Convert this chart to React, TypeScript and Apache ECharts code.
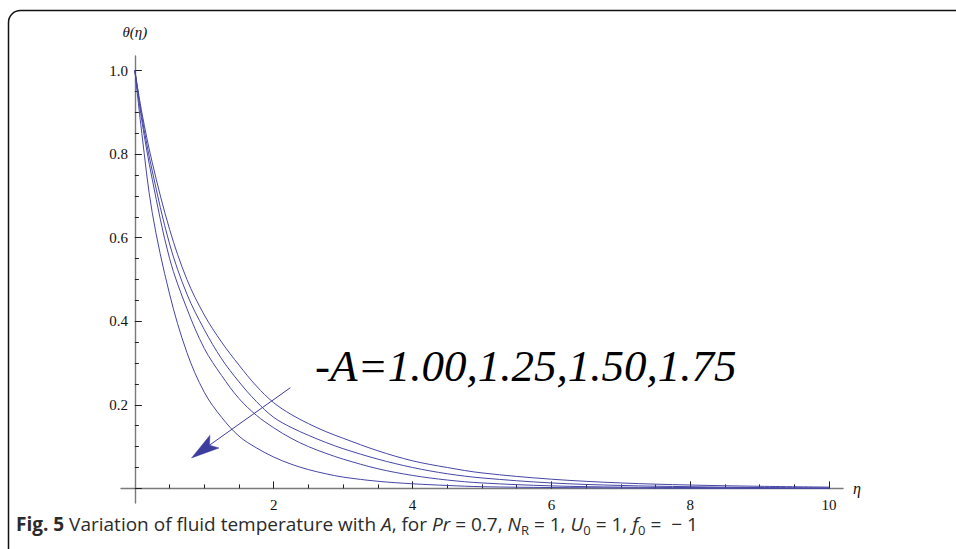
import React, { useEffect, useRef } from "react";
import * as echarts from "echarts";

// eta grid (x values)
const eta = [0, 0.1, 0.25, 0.5, 0.75, 1, 1.25, 1.5, 1.75, 2, 2.25, 2.5, 2.75, 3, 3.5, 4, 4.5, 5, 6, 7, 8, 9, 10];

// theta(eta) for -A = 1.00, 1.25, 1.50, 1.75
const thetaA100 = [1, 0.9, 0.78, 0.62, 0.5, 0.415, 0.35, 0.295, 0.245, 0.205, 0.177, 0.155, 0.136, 0.12, 0.09, 0.066, 0.05, 0.037, 0.022, 0.013, 0.008, 0.005, 0.003];
const thetaA125 = [1, 0.89, 0.76, 0.585, 0.465, 0.38, 0.31, 0.255, 0.208, 0.17, 0.146, 0.127, 0.11, 0.095, 0.07, 0.05, 0.035, 0.025, 0.013, 0.007, 0.004, 0.002, 0.001];
const thetaA150 = [1, 0.88, 0.74, 0.55, 0.43, 0.335, 0.27, 0.215, 0.175, 0.145, 0.12, 0.1, 0.084, 0.07, 0.047, 0.031, 0.02, 0.013, 0.006, 0.003, 0.002, 0.001, 0];
const thetaA175 = [1, 0.85, 0.66, 0.465, 0.325, 0.23, 0.17, 0.125, 0.097, 0.075, 0.058, 0.045, 0.035, 0.027, 0.017, 0.011, 0.007, 0.004, 0.002, 0.001, 0, 0, 0];

const seriesNames = ["-A=1.00", "-A=1.25", "-A=1.50", "-A=1.75"];
const seriesValues = [thetaA100, thetaA125, thetaA150, thetaA175];

// ticks
const xMinorTicks = [0.5, 1, 1.5, 2, 2.5, 3, 3.5, 4, 4.5, 5, 5.5, 6, 6.5, 7, 7.5, 8, 8.5, 9, 9.5, 10];
const xMajorTicks = [2, 4, 6, 8, 10];
const yMinorTicks = [0, 0.05, 0.1, 0.15, 0.2, 0.25, 0.3, 0.35, 0.4, 0.45, 0.5, 0.55, 0.6, 0.65, 0.7, 0.75, 0.8, 0.85, 0.9, 0.95, 1];
const yMajorTicks = [0, 0.2, 0.4, 0.6, 0.8, 1];
const yLabelValues = [0.2, 0.4, 0.6, 0.8, 1];

// axis ranges
const X_MIN = -0.2;
const X_MAX = 10.2;
const Y_MIN = -0.035;
const Y_MAX = 1.035;

// annotation arrow (data coords): tail and tip
const arrowTail = [2.24, 0.241];
const arrowTip = [0.817, 0.073];

const annotationText = "-A=1.00,1.25,1.50,1.75";

const LINE_COLOR = "#4646a6";
const ARROW_COLOR = "#3d3d9e";
const AXIS_COLOR = "#7a7a7a";
const SERIF = '"Liberation Serif", "DejaVu Serif", serif';
const SANS = '"Open Sans", "Noto Sans", sans-serif';

const GRID = { left: 121, right: 113, top: 56, bottom: 46 };
const W = 956;
const H = 549;

export default function App() {
  const ref = useRef<HTMLDivElement>(null);

  useEffect(() => {
    if (!ref.current) return;
    const chart = echarts.init(ref.current, null, { renderer: "svg" });

    const gridW = W - GRID.left - GRID.right;
    const gridH = H - GRID.top - GRID.bottom;
    // offsets that bring the axes onto eta = 0 / theta = 0
    const yAxisOffset = -((0 - X_MIN) / (X_MAX - X_MIN)) * gridW;
    const xAxisOffset = -((0 - Y_MIN) / (Y_MAX - Y_MIN)) * gridH;

    const labelStyle = { fontFamily: SERIF, fontSize: 15, color: "#111" };

    const series: any[] = seriesNames.map((name, k) => ({
      name,
      type: "line",
      xAxisIndex: 0,
      yAxisIndex: 0,
      showSymbol: false,
      symbol: "none",
      smooth: 0.35,
      lineStyle: { color: LINE_COLOR, width: 1 },
      itemStyle: { color: LINE_COLOR },
      emphasis: { disabled: true },
      silent: true,
      data: eta.map((x, i) => [x, seriesValues[k][i]]),
    }));

    const xBase = {
      type: "value",
      min: X_MIN,
      max: X_MAX,
      position: "bottom",
      offset: xAxisOffset,
      splitLine: { show: false },
    };
    const yBase = {
      type: "value",
      min: Y_MIN,
      max: Y_MAX,
      position: "left",
      offset: yAxisOffset,
      splitLine: { show: false },
    };

    chart.setOption({
      animation: false,
      backgroundColor: "#ffffff",
      grid: { ...GRID, containLabel: false },
      xAxis: [
        {
          ...xBase,
          axisLine: { show: true, onZero: false, lineStyle: { color: AXIS_COLOR, width: 1.4 } },
          axisTick: { show: true, inside: true, length: 4, customValues: xMinorTicks, lineStyle: { color: "#222", width: 1 } },
          axisLabel: { show: false },
        },
        {
          ...xBase,
          name: "η",
          nameLocation: "end",
          nameGap: 10,
          nameTextStyle: { fontFamily: SERIF, fontSize: 16, fontStyle: "italic", color: "#111" },
          axisLine: { show: false, onZero: false },
          axisTick: { show: true, inside: true, length: 7, customValues: xMajorTicks, lineStyle: { color: "#222", width: 1 } },
          axisLabel: { show: true, margin: 9, customValues: xMajorTicks, ...labelStyle },
        },
      ],
      yAxis: [
        {
          ...yBase,
          axisLine: { show: true, onZero: false, lineStyle: { color: AXIS_COLOR, width: 1.4 } },
          axisTick: { show: true, inside: true, length: 4, customValues: yMinorTicks, lineStyle: { color: "#222", width: 1 } },
          axisLabel: { show: false },
        },
        {
          ...yBase,
          name: "θ(η)",
          nameLocation: "end",
          nameGap: 17,
          nameTextStyle: { fontFamily: SERIF, fontSize: 15, fontStyle: "italic", color: "#111", align: "center" },
          axisLine: { show: false, onZero: false },
          axisTick: { show: true, inside: true, length: 7, customValues: yMajorTicks, lineStyle: { color: "#222", width: 1 } },
          axisLabel: {
            show: true,
            margin: 7,
            customValues: yLabelValues,
            formatter: (v: number) => v.toFixed(1),
            ...labelStyle,
          },
        },
      ],
      series,
      graphic: [
        {
          id: "border",
          type: "rect",
          silent: true,
          shape: { x: 8.5, y: 10.5, width: 1000, height: 600, r: 12 },
          style: { fill: "none", stroke: "#111", lineWidth: 1.5 },
        },
        {
          id: "annotation",
          type: "text",
          silent: true,
          x: 315,
          y: 366,
          style: {
            text: annotationText,
            fontFamily: SERIF,
            fontSize: 45,
            fontStyle: "italic",
            fill: "#000",
            align: "left",
            verticalAlign: "middle",
          },
        },
        {
          id: "caption",
          type: "text",
          silent: true,
          x: 16,
          y: 524,
          style: {
            text:
              "{b|Fig. 5} {n|Variation of fluid temperature with }{i|A}{n|, for }{i|Pr}{n| = 0.7, }{i|N}{sub|R}{n| = 1, }{i|U}{sub|0}{n| = 1, }{i|f}{sub|0}{n| =  − 1}",
            fill: "#2b2b2b",
            fontFamily: SANS,
            fontSize: 19,
            verticalAlign: "middle",
            align: "left",
            rich: {
              b: { fontWeight: "bold", fontSize: 19, lineHeight: 24, fontFamily: SANS, fill: "#2b2b2b" },
              n: { fontSize: 19, lineHeight: 24, fontFamily: SANS, fill: "#2b2b2b" },
              i: { fontSize: 19, fontStyle: "italic", lineHeight: 24, fontFamily: SANS, fill: "#2b2b2b" },
              sub: { fontSize: 13, lineHeight: 10, verticalAlign: "bottom", fontFamily: SANS, fill: "#2b2b2b" },
            },
          },
        },
      ],
    });

    // arrow, placed through the chart's own scales
    const p0 = chart.convertToPixel({ xAxisIndex: 0, yAxisIndex: 0 }, arrowTail) as number[];
    const p1 = chart.convertToPixel({ xAxisIndex: 0, yAxisIndex: 0 }, arrowTip) as number[];
    if (p0 && p1) {
      const dx = p1[0] - p0[0];
      const dy = p1[1] - p0[1];
      const len = Math.sqrt(dx * dx + dy * dy) || 1;
      const ux = dx / len;
      const uy = dy / len;
      const nx = -uy;
      const ny = ux;
      const headLen = 28;
      const halfW = 7.8;
      const notch = 6;
      const back = [p1[0] - ux * headLen, p1[1] - uy * headLen];
      const notchPt = [p1[0] - ux * (headLen - notch), p1[1] - uy * (headLen - notch)];
      chart.setOption({
        graphic: [
          {
            id: "arrowLine",
            type: "line",
            silent: true,
            shape: { x1: p0[0], y1: p0[1], x2: notchPt[0], y2: notchPt[1] },
            style: { stroke: ARROW_COLOR, lineWidth: 1 },
          },
          {
            id: "arrowHead",
            type: "polygon",
            silent: true,
            shape: {
              points: [
                [p1[0], p1[1]],
                [back[0] + nx * halfW, back[1] + ny * halfW],
                [notchPt[0], notchPt[1]],
                [back[0] - nx * halfW, back[1] - ny * halfW],
              ],
            },
            style: { fill: ARROW_COLOR, stroke: ARROW_COLOR, lineWidth: 0.5 },
          },
        ],
      });
    }

    return () => chart.dispose();
  }, []);

  return (
    <div
      ref={ref}
      style={{ position: "absolute", left: 0, top: 0, width: W, height: H }}
    />
  );
}
